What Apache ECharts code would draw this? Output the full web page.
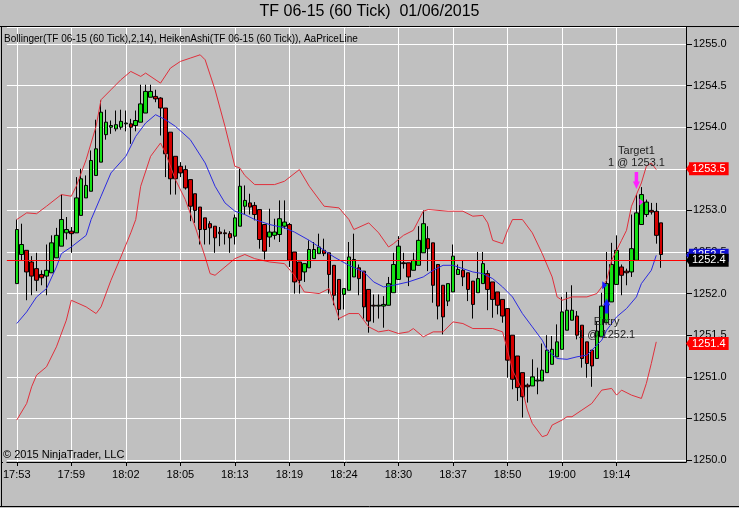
<!DOCTYPE html>
<html>
<head>
<meta charset="utf-8">
<title>TF 06-15 (60 Tick)</title>
<script src="https://cdn.jsdelivr.net/npm/echarts@6/dist/echarts.min.js"></script>
<style>
  html, body { margin: 0; padding: 0; background: #c0c0c0; }
  #chart { width: 739px; height: 508px; }
</style>
</head>
<body>
<div id="chart"></div>
<script>
// --- data ---

// time labels, one every 11 bars
const timeLabels = ['17:53', '17:59', '18:02', '18:05', '18:13', '18:19', '18:24', '18:30', '18:37', '18:50', '19:00', '19:14'];
const labelEvery = 11;

// HeikenAshi bars: [open, close, low, high]
const haBars = [
  [1252.12, 1252.77, 1252.12, 1252.89], [1252.47, 1252.59, 1252.40, 1252.84], [1252.52, 1252.26, 1251.92, 1252.52],
  [1252.38, 1252.21, 1251.98, 1252.45], [1252.30, 1252.16, 1252.03, 1252.49], [1252.23, 1252.19, 1252.10, 1252.28],
  [1252.21, 1252.28, 1251.98, 1252.59], [1252.25, 1252.61, 1252.25, 1252.70], [1252.43, 1252.70, 1252.43, 1252.79],
  [1252.57, 1252.89, 1252.57, 1253.19], [1252.73, 1252.77, 1252.65, 1252.92], [1252.75, 1252.72, 1252.49, 1252.80],
  [1252.73, 1253.15, 1252.73, 1253.40], [1252.94, 1253.38, 1252.94, 1253.50], [1253.15, 1253.30, 1253.15, 1253.42],
  [1253.23, 1253.60, 1253.23, 1253.72], [1253.42, 1253.74, 1253.42, 1254.09], [1253.58, 1254.18, 1253.58, 1254.32],
  [1253.91, 1254.06, 1253.85, 1254.21], [1254.00, 1254.02, 1253.92, 1254.08], [1253.98, 1254.03, 1253.95, 1254.20],
  [1254.00, 1254.07, 1253.97, 1254.21], [1254.04, 1254.05, 1253.95, 1254.20], [1254.04, 1254.00, 1253.80, 1254.10],
  [1254.02, 1254.08, 1253.95, 1254.20], [1254.06, 1254.28, 1254.06, 1254.51], [1254.17, 1254.43, 1254.17, 1254.51],
  [1254.36, 1254.43, 1254.36, 1254.51], [1254.37, 1254.34, 1254.30, 1254.45], [1254.35, 1254.23, 1253.90, 1254.36],
  [1254.23, 1253.68, 1253.40, 1254.23], [1253.94, 1253.38, 1253.19, 1253.94], [1253.65, 1253.38, 1253.19, 1253.65],
  [1253.53, 1253.45, 1253.40, 1253.58], [1253.49, 1253.27, 1253.25, 1253.54], [1253.37, 1253.05, 1252.87, 1253.37],
  [1253.20, 1253.00, 1252.85, 1253.20], [1253.04, 1252.77, 1252.59, 1253.04], [1252.91, 1252.77, 1252.59, 1252.91],
  [1252.84, 1252.79, 1252.59, 1252.87], [1252.81, 1252.67, 1252.49, 1252.81], [1252.74, 1252.72, 1252.57, 1252.80],
  [1252.73, 1252.72, 1252.59, 1252.77], [1252.72, 1252.67, 1252.49, 1252.75], [1252.69, 1252.91, 1252.59, 1252.95],
  [1252.81, 1253.29, 1252.81, 1253.50], [1253.05, 1253.12, 1252.95, 1253.30], [1253.09, 1253.04, 1252.95, 1253.20],
  [1253.06, 1252.95, 1252.88, 1253.10], [1253.01, 1252.65, 1252.54, 1253.01], [1252.83, 1252.51, 1252.41, 1252.83],
  [1252.68, 1252.74, 1252.56, 1253.02], [1252.70, 1252.74, 1252.65, 1252.90], [1252.71, 1252.90, 1252.62, 1253.12],
  [1252.81, 1252.86, 1252.78, 1253.12], [1252.83, 1252.40, 1252.32, 1252.85], [1252.50, 1252.14, 1252.00, 1252.50],
  [1252.38, 1252.16, 1252.00, 1252.38], [1252.26, 1252.36, 1252.14, 1252.36], [1252.31, 1252.53, 1252.31, 1252.64],
  [1252.42, 1252.53, 1252.42, 1252.62], [1252.48, 1252.56, 1252.48, 1252.72], [1252.52, 1252.48, 1252.45, 1252.66],
  [1252.49, 1252.23, 1252.00, 1252.49], [1252.34, 1251.98, 1251.86, 1252.34], [1252.17, 1251.81, 1251.68, 1252.17],
  [1251.99, 1252.06, 1251.81, 1252.06], [1252.04, 1252.44, 1252.04, 1252.62], [1252.20, 1252.41, 1252.20, 1252.72],
  [1252.31, 1252.18, 1251.98, 1252.35], [1252.27, 1251.84, 1251.70, 1252.27], [1252.05, 1251.67, 1251.53, 1252.05],
  [1251.86, 1251.85, 1251.65, 1251.99], [1251.85, 1251.86, 1251.70, 1251.99], [1251.85, 1251.87, 1251.59, 1251.97],
  [1251.86, 1252.12, 1251.86, 1252.20], [1252.01, 1252.35, 1252.01, 1252.49], [1252.17, 1252.57, 1252.17, 1252.69],
  [1252.37, 1252.36, 1252.30, 1252.49], [1252.37, 1252.20, 1252.09, 1252.37], [1252.28, 1252.40, 1252.28, 1252.49],
  [1252.34, 1252.64, 1252.34, 1252.81], [1252.49, 1252.84, 1252.49, 1253.00], [1252.66, 1252.54, 1252.27, 1252.81],
  [1252.61, 1252.10, 1251.89, 1252.61], [1252.35, 1251.85, 1251.69, 1252.35], [1252.10, 1251.72, 1251.51, 1252.10],
  [1251.91, 1252.12, 1251.85, 1252.12], [1252.02, 1252.45, 1252.02, 1252.59], [1252.23, 1252.29, 1252.23, 1252.35],
  [1252.28, 1252.20, 1252.09, 1252.40], [1252.25, 1252.05, 1251.91, 1252.25], [1252.15, 1251.87, 1251.70, 1252.15],
  [1252.01, 1252.18, 1252.01, 1252.50], [1252.12, 1252.36, 1252.12, 1252.50], [1252.24, 1252.05, 1251.80, 1252.28],
  [1252.14, 1251.93, 1251.71, 1252.14], [1252.02, 1251.86, 1251.75, 1252.02], [1251.93, 1251.73, 1251.65, 1251.93],
  [1251.82, 1251.20, 1250.99, 1251.82], [1251.50, 1250.97, 1250.85, 1251.50], [1251.25, 1250.87, 1250.71, 1251.25],
  [1251.05, 1250.76, 1250.51, 1251.05], [1250.90, 1250.88, 1250.69, 1250.92], [1250.89, 1251.00, 1250.89, 1251.21],
  [1250.95, 1250.96, 1250.79, 1251.11], [1250.95, 1251.08, 1250.95, 1251.40], [1251.05, 1251.32, 1251.05, 1251.50],
  [1251.15, 1251.33, 1251.15, 1251.49], [1251.24, 1251.42, 1251.24, 1251.63], [1251.33, 1251.78, 1251.33, 1251.96],
  [1251.56, 1251.80, 1251.56, 1252.02], [1251.68, 1251.80, 1251.68, 1252.10], [1251.73, 1251.50, 1251.45, 1251.79],
  [1251.62, 1251.22, 1251.11, 1251.62], [1251.42, 1251.16, 1250.99, 1251.42], [1251.32, 1251.13, 1250.88, 1251.32],
  [1251.22, 1251.55, 1251.22, 1251.67], [1251.48, 1251.85, 1251.48, 1252.01], [1251.65, 1252.12, 1251.65, 1252.50],
  [1251.90, 1252.35, 1251.90, 1252.61], [1252.11, 1252.52, 1252.11, 1252.70], [1252.32, 1252.22, 1251.98, 1252.35],
  [1252.27, 1252.25, 1252.10, 1252.30], [1252.26, 1252.54, 1252.20, 1252.95], [1252.40, 1252.97, 1252.40, 1253.19],
  [1252.83, 1253.19, 1252.83, 1253.28], [1252.95, 1253.10, 1252.92, 1253.13], [1253.00, 1252.98, 1252.95, 1253.09],
  [1252.99, 1252.70, 1252.60, 1253.09], [1252.85, 1252.47, 1252.31, 1252.85]
];

// Bollinger(14, 2) at these bars: [bar, value]
const upperBand = [
  [0, 1252.89], [2, 1252.97], [4, 1252.96], [6, 1253.05], [9, 1253.19], [11, 1253.17], [12, 1253.29], [14, 1253.61],
  [16, 1254.01], [17, 1254.33], [19, 1254.45], [21, 1254.57], [23, 1254.67], [25, 1254.61], [26, 1254.65], [29, 1254.53],
  [31, 1254.71], [33, 1254.79], [35, 1254.83], [37, 1254.87], [38, 1254.81], [40, 1254.45], [42, 1254.01], [44, 1253.53],
  [45, 1253.51], [46, 1253.42], [48, 1253.31], [52, 1253.31], [54, 1253.35], [57, 1253.49], [59, 1253.29], [62, 1253.05],
  [65, 1253.03], [67, 1252.89], [68, 1252.77], [71, 1252.85], [73, 1252.73], [75, 1252.56], [76, 1252.60], [78, 1252.70],
  [80, 1252.76], [82, 1252.99], [83, 1253.01], [87, 1252.99], [90, 1252.99], [92, 1252.93], [94, 1252.94], [95, 1252.85],
  [96, 1252.64], [98, 1252.60], [99, 1252.76], [100, 1252.89], [102, 1252.89], [104, 1252.73], [106, 1252.48], [108, 1252.20],
  [109, 1251.96], [110, 1251.92], [112, 1251.96], [115, 1251.96], [117, 1252.00], [119, 1252.16], [120, 1252.40], [122, 1252.64],
  [123, 1252.76], [124, 1253.05], [126, 1253.33], [127, 1253.53], [128, 1253.57], [129, 1253.49]
];
const middleBand = [
  [0, 1251.64], [2, 1251.78], [4, 1251.96], [6, 1252.06], [8, 1252.32], [9, 1252.48], [11, 1252.56], [14, 1252.70],
  [15, 1252.89], [17, 1253.17], [19, 1253.45], [22, 1253.65], [24, 1253.89], [26, 1254.05], [28, 1254.15], [30, 1254.09],
  [32, 1254.01], [35, 1253.85], [38, 1253.57], [40, 1253.29], [42, 1253.09], [44, 1252.99], [46, 1252.95], [48, 1252.89],
  [51, 1252.83], [54, 1252.79], [56, 1252.74], [59, 1252.64], [62, 1252.52], [64, 1252.44], [67, 1252.34], [70, 1252.26],
  [72, 1252.14], [74, 1252.08], [76, 1252.10], [79, 1252.14], [82, 1252.20], [84, 1252.28], [86, 1252.34], [88, 1252.34],
  [90, 1252.30], [92, 1252.26], [94, 1252.24], [96, 1252.18], [98, 1252.08], [100, 1251.96], [102, 1251.76], [104, 1251.60],
  [106, 1251.44], [107, 1251.32], [109, 1251.22], [111, 1251.21], [113, 1251.24], [115, 1251.26], [116, 1251.32], [118, 1251.44],
  [119, 1251.56], [121, 1251.72], [123, 1251.82], [125, 1251.96], [126, 1252.12], [128, 1252.28], [129, 1252.46]
];
const lowerBand = [
  [0, 1250.48], [2, 1250.68], [3, 1250.88], [4, 1251.02], [6, 1251.12], [8, 1251.36], [10, 1251.68], [11, 1251.92],
  [14, 1251.84], [16, 1251.76], [17, 1251.84], [19, 1252.16], [21, 1252.44], [23, 1252.73], [24, 1252.89], [25, 1253.29],
  [27, 1253.65], [29, 1253.81], [30, 1253.69], [32, 1253.37], [34, 1253.13], [36, 1252.80], [38, 1252.44], [39, 1252.24],
  [40, 1252.22], [42, 1252.32], [44, 1252.42], [46, 1252.47], [48, 1252.42], [51, 1252.38], [54, 1252.36], [56, 1252.22],
  [58, 1252.02], [61, 1252.00], [63, 1252.06], [65, 1251.70], [67, 1251.76], [69, 1251.76], [71, 1251.60], [73, 1251.54],
  [75, 1251.56], [77, 1251.52], [79, 1251.54], [80, 1251.58], [82, 1251.48], [84, 1251.54], [86, 1251.54], [88, 1251.66],
  [90, 1251.64], [92, 1251.58], [96, 1251.58], [98, 1251.54], [99, 1251.32], [100, 1251.08], [102, 1250.84], [103, 1250.60],
  [104, 1250.44], [106, 1250.28], [107, 1250.30], [108, 1250.42], [110, 1250.48], [111, 1250.52], [112, 1250.52], [114, 1250.60],
  [116, 1250.68], [118, 1250.84], [120, 1250.86], [121, 1250.78], [122, 1250.84], [124, 1250.78], [126, 1250.74], [127, 1250.92],
  [128, 1251.16], [129, 1251.42]
];

// right-axis price markers and the price line
const priceLine = 1252.4;
const upperLast = 1253.5;
const middleLast = 1252.46;
const lowerLast = 1251.4;

// executions
const entryFill = { bar: 118, price: 1252.1, arrowBar: 119, arrowPrice: 1251.85, text: 'Entry\n1 @ 1252.1', textPrice: 1251.58 };
const targetFill = { bar: 126, price: 1253.1, arrowBar: 125, arrowPrice: 1253.36, text: 'Target1\n1 @ 1253.1' };

// --- layout helpers ---
const PAD_LEFT = 2;   // empty slots before the first bar
const PAD_RIGHT = 5;  // empty slots after the last bar
const nSlots = PAD_LEFT + haBars.length + PAD_RIGHT;
const slots = [];
for (let j = 0; j < nSlots; j++) slots.push(String(j));
const lastSlot = nSlots - 1;

function labelFor(j) {
  const i = j - PAD_LEFT;
  if (i < 0 || i % labelEvery !== 0) return null;
  const k = i / labelEvery;
  return k < timeLabels.length ? timeLabels[k] : null;
}
const onLabel = (j) => labelFor(j) !== null;

const candleData = haBars.map((b, i) => [i + PAD_LEFT, b[0], b[1], b[2], b[3]]);
const shift = (arr) => arr.map(p => [p[0] + PAD_LEFT, p[1]]);

const FONT = 'Liberation Sans, Arial, sans-serif';
const leftArrow = 'path://M0,5 L5,0 L5,10 Z';
const rightArrow = 'path://M5,5 L0,0 L0,10 Z';
const downArrow = 'path://M2,0 L6,0 L6,9 L8,9 L4,16 L0,9 L2,9 Z';
const upArrow = 'path://M4,0 L8,7 L6,7 L6,16 L2,16 L2,7 L0,7 Z';

function axisMarker(value, bg, lineColor) {
  return {
    yAxis: value,
    lineStyle: { color: lineColor || 'transparent', width: 1, type: 'solid' },
    label: {
      show: true, position: 'end', distance: 3,
      formatter: value.toFixed(1),
      color: '#fff', backgroundColor: bg, fontFamily: FONT, fontSize: 11,
      padding: [1, 3, 0, 3], lineHeight: 12
    }
  };
}

const chart = echarts.init(document.getElementById('chart'), null, { renderer: 'canvas' });

const option = {
  animation: false,
  backgroundColor: '#c0c0c0',
  textStyle: { fontFamily: FONT },
  title: [
    {
      text: 'TF 06-15 (60 Tick)  01/06/2015', left: 'center', top: 4, padding: 0,
      textStyle: { fontSize: 16, fontWeight: 'normal', color: '#000', fontFamily: FONT }
    },
    {
      text: 'Bollinger(TF 06-15 (60 Tick),2,14), HeikenAshi(TF 06-15 (60 Tick)), AaPriceLine', left: 4, top: 34, padding: 0,
      textStyle: { fontSize: 10, fontWeight: 'normal', color: '#000', fontFamily: FONT }
    },
    {
      text: '\u00a9 2015 NinjaTrader, LLC', left: 3, top: 449, padding: 0,
      textStyle: { fontSize: 11, fontWeight: 'normal', color: '#000', fontFamily: FONT }
    }
  ],
  grid: { left: 2.5, right: 53, top: 27, bottom: 46, containLabel: false },
  xAxis: {
    type: 'category', data: slots, boundaryGap: false,
    axisLine: { show: true, lineStyle: { color: '#000' } },
    axisTick: { show: true, interval: (j) => onLabel(j), length: 4, lineStyle: { color: '#000' } },
    axisLabel: {
      interval: (j) => onLabel(j), formatter: (v, j) => labelFor(j) || '',
      color: '#000', fontSize: 11, margin: 7, fontFamily: FONT
    },
    splitLine: { show: true, interval: (j) => onLabel(j), lineStyle: { color: '#fff', width: 1 } }
  },
  yAxis: {
    type: 'value', position: 'right', scale: true,
    min: 1249.976, max: 1255.204, splitNumber: 10, minInterval: 0.5, maxInterval: 0.5,
    axisLine: { show: true, lineStyle: { color: '#000' } },
    axisTick: { show: true, length: 6, lineStyle: { color: '#000' } },
    axisLabel: {
      formatter: (v) => v.toFixed(1), color: '#000', fontSize: 11, margin: 7, fontFamily: FONT,
      showMinLabel: false, showMaxLabel: false
    },
    splitLine: { show: true, lineStyle: { color: '#fff', width: 1 } }
  },
  graphic: [
    { type: 'line', shape: { x1: 0, y1: 26.5, x2: 739, y2: 26.5 }, style: { stroke: '#000', lineWidth: 1 }, silent: true },
    { type: 'line', shape: { x1: 1.5, y1: 26.5, x2: 1.5, y2: 507 }, style: { stroke: '#000', lineWidth: 1 }, silent: true },
    { type: 'line', shape: { x1: 0, y1: 506.5, x2: 739, y2: 506.5 }, style: { stroke: '#000', lineWidth: 1 }, silent: true },
    { type: 'line', shape: { x1: 1.5, y1: 462.5, x2: 3, y2: 462.5 }, style: { stroke: '#000', lineWidth: 1 }, silent: true }
  ],
  series: [
    {
      // execution text sits behind the bars
      name: 'entryText', type: 'line', data: [], z: 1,
      markPoint: {
        symbol: 'rect', symbolSize: 1, itemStyle: { color: 'transparent' },
        data: [{
          coord: [entryFill.arrowBar + PAD_LEFT, entryFill.textPrice],
          label: { show: true, position: 'inside', formatter: entryFill.text, color: '#222', fontSize: 11, lineHeight: 13, fontFamily: FONT }
        }]
      }
    },
    {
      name: 'HeikenAshi', type: 'candlestick', data: candleData, z: 2,
      encode: { x: 0, y: [1, 2, 3, 4] },
      barWidth: 4,
      itemStyle: {
        color: '#15e015', color0: '#d20000',
        borderColor: '#000', borderColor0: '#000', borderColorDoji: '#000', borderWidth: 1
      }
    },
    {
      name: 'Upper', type: 'line', data: shift(upperBand), z: 3, symbol: 'none', smooth: false,
      lineStyle: { color: '#e0303c', width: 1 }
    },
    {
      name: 'Middle', type: 'line', data: shift(middleBand), z: 3, symbol: 'none', smooth: false,
      lineStyle: { color: '#2b2be0', width: 1 }
    },
    {
      name: 'Lower', type: 'line', data: shift(lowerBand), z: 3, symbol: 'none', smooth: false,
      lineStyle: { color: '#e0303c', width: 1 }
    },
    {
      // middle band's last value marker, sits behind the price marker
      name: 'midMarker', type: 'line', data: [], z: 4,
      markLine: { symbol: ['none', 'none'], silent: true, data: [axisMarker(middleLast, '#1010d0')] },
      markPoint: {
        silent: true,
        data: [{ coord: [lastSlot, middleLast], symbol: leftArrow, symbolSize: [4, 11], symbolOffset: [2, 0], itemStyle: { color: '#1010d0' } }]
      }
    },
    {
      name: 'priceMarkers', type: 'line', data: [], z: 5,
      markLine: {
        symbol: ['none', 'none'], silent: true,
        data: [
          axisMarker(upperLast, '#ff0000'),
          axisMarker(lowerLast, '#ff0000'),
          axisMarker(priceLine, '#000', '#ff0000')
        ]
      },
      markPoint: {
        silent: true,
        data: [
          { coord: [lastSlot, upperLast], symbol: leftArrow, symbolSize: [4, 11], symbolOffset: [2, 0], itemStyle: { color: '#ff0000' } },
          { coord: [lastSlot, lowerLast], symbol: leftArrow, symbolSize: [4, 11], symbolOffset: [2, 0], itemStyle: { color: '#ff0000' } },
          { coord: [lastSlot, priceLine], symbol: leftArrow, symbolSize: [4, 11], symbolOffset: [2, 0], itemStyle: { color: '#000' } }
        ]
      }
    },
    {
      name: 'executions', type: 'line', data: [], z: 6,
      markPoint: {
        silent: true,
        data: [
          { coord: [entryFill.bar + PAD_LEFT, entryFill.price], symbol: rightArrow, symbolSize: [5, 8], symbolOffset: [3, 0], itemStyle: { color: '#1a1aff' } },
          { coord: [entryFill.arrowBar + PAD_LEFT, entryFill.arrowPrice], symbol: upArrow, symbolSize: [7, 15], itemStyle: { color: '#1a1aff' } },
          { coord: [targetFill.bar + PAD_LEFT, targetFill.price], symbol: rightArrow, symbolSize: [4, 7], itemStyle: { color: '#ff22ff' } },
          {
            coord: [targetFill.arrowBar + PAD_LEFT, targetFill.arrowPrice], symbol: downArrow, symbolSize: [7, 17], itemStyle: { color: '#ff22ff' },
            label: { show: true, position: 'top', distance: 3, formatter: targetFill.text, color: '#222', fontSize: 11, lineHeight: 12, fontFamily: FONT }
          }
        ]
      }
    }
  ]
};

chart.setOption(option);
window.addEventListener('resize', () => chart.resize());
</script>
</body>
</html>
